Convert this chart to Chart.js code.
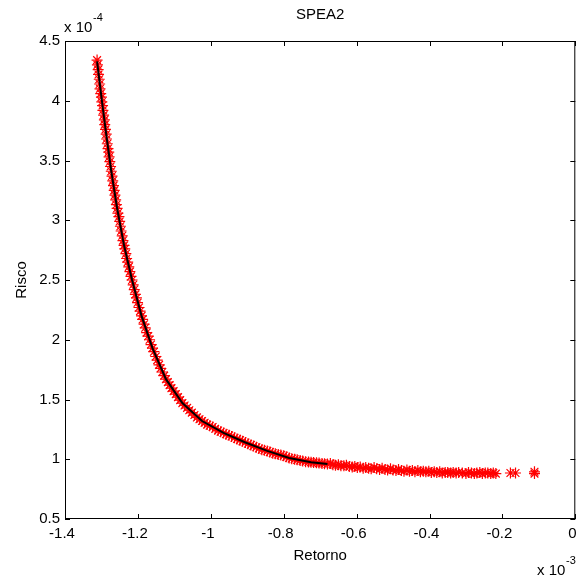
<!DOCTYPE html>
<html>
<head>
<meta charset="utf-8">
<script src="https://cdn.jsdelivr.net/npm/chart.js@4.4.1/dist/chart.umd.min.js"></script>
<style>
  html, body { margin: 0; padding: 0; background: #fff; }
  #wrap { width: 582px; height: 579px; position: relative; }
</style>
</head>
<body>
<div id="wrap"><canvas id="spea2"></canvas></div>
<script>
// Fronteira de Pareto SPEA2 (Retorno x 1e-3, Risco x 1e-4)
const retorno = [
  -1.312, -1.311, -1.309, -1.308, -1.306, -1.305, -1.304, -1.302, -1.300, -1.299,
  -1.297, -1.296, -1.294, -1.292, -1.291, -1.289, -1.287, -1.286, -1.284, -1.282,
  -1.280, -1.279, -1.277, -1.275, -1.273, -1.271, -1.269, -1.267, -1.265, -1.263,
  -1.261, -1.259, -1.257, -1.255, -1.252, -1.250, -1.248, -1.246, -1.243, -1.241,
  -1.238, -1.236, -1.233, -1.231, -1.228, -1.225, -1.222, -1.219, -1.216, -1.213,
  -1.210, -1.207, -1.204, -1.201, -1.197, -1.194, -1.190, -1.187, -1.183, -1.180,
  -1.176, -1.172, -1.168, -1.164, -1.160, -1.156, -1.151, -1.147, -1.142, -1.138,
  -1.133, -1.128, -1.123, -1.118, -1.113, -1.108, -1.102, -1.096, -1.090, -1.084,
  -1.078, -1.072, -1.065, -1.059, -1.052, -1.045, -1.038, -1.031, -1.024, -1.017,
  -1.010, -1.003, -0.995, -0.988, -0.980, -0.973, -0.965, -0.958, -0.950, -0.943,
  -0.935, -0.928, -0.920, -0.913, -0.905, -0.898, -0.890, -0.883, -0.875, -0.868,
  -0.860, -0.853, -0.845, -0.838, -0.830, -0.823, -0.815, -0.808, -0.800, -0.793,
  -0.785, -0.778, -0.770, -0.763, -0.755, -0.748, -0.740, -0.732, -0.725, -0.718,
  -0.710, -0.703, -0.695, -0.688, -0.680, -0.672, -0.665, -0.658, -0.650, -0.643,
  -0.635, -0.628, -0.620, -0.612, -0.605, -0.598, -0.590, -0.582, -0.575, -0.567,
  -0.560, -0.552, -0.545, -0.537, -0.530, -0.522, -0.515, -0.507, -0.500, -0.492,
  -0.485, -0.477, -0.470, -0.462, -0.455, -0.447, -0.440, -0.432, -0.425, -0.417,
  -0.410, -0.402, -0.395, -0.387, -0.380, -0.372, -0.365, -0.357, -0.350, -0.342,
  -0.335, -0.327, -0.320, -0.310, -0.300, -0.293, -0.285, -0.277, -0.270, -0.262,
  -0.255, -0.247, -0.240, -0.232, -0.225, -0.218, -0.178, -0.164, -0.112, -0.112
];
const risco = [
  4.34, 4.30, 4.26, 4.22, 4.18, 4.14, 4.10, 4.06, 4.03, 3.99,
  3.96, 3.92, 3.88, 3.84, 3.80, 3.76, 3.72, 3.68, 3.64, 3.60,
  3.57, 3.53, 3.49, 3.45, 3.41, 3.37, 3.33, 3.29, 3.25, 3.21,
  3.17, 3.13, 3.10, 3.06, 3.03, 2.99, 2.95, 2.91, 2.87, 2.83,
  2.79, 2.76, 2.72, 2.68, 2.65, 2.61, 2.57, 2.53, 2.50, 2.46,
  2.42, 2.38, 2.35, 2.31, 2.27, 2.24, 2.20, 2.17, 2.13, 2.10,
  2.06, 2.03, 2.00, 1.96, 1.93, 1.90, 1.86, 1.83, 1.79, 1.76,
  1.73, 1.70, 1.67, 1.645, 1.62, 1.595, 1.57, 1.545, 1.52, 1.495,
  1.47, 1.45, 1.43, 1.41, 1.39, 1.37, 1.35, 1.335, 1.32, 1.305,
  1.29, 1.28, 1.27, 1.255, 1.24, 1.23, 1.22, 1.21, 1.20, 1.19,
  1.18, 1.17, 1.16, 1.15, 1.14, 1.13, 1.12, 1.11, 1.10, 1.09,
  1.08, 1.075, 1.07, 1.06, 1.05, 1.045, 1.04, 1.035, 1.03, 1.02,
  1.01, 1.005, 1.00, 0.995, 0.99, 0.985, 0.98, 0.978, 0.975, 0.972,
  0.97, 0.968, 0.965, 0.962, 0.96, 0.965, 0.955, 0.95, 0.955, 0.945,
  0.945, 0.95, 0.94, 0.935, 0.94, 0.93, 0.935, 0.925, 0.93, 0.925,
  0.92, 0.93, 0.92, 0.915, 0.925, 0.915, 0.91, 0.92, 0.91, 0.905,
  0.915, 0.905, 0.90, 0.91, 0.90, 0.905, 0.895, 0.905, 0.895, 0.90,
  0.895, 0.90, 0.89, 0.895, 0.89, 0.895, 0.885, 0.89, 0.89, 0.885,
  0.89, 0.885, 0.89, 0.885, 0.88, 0.89, 0.885, 0.88, 0.885, 0.89,
  0.88, 0.885, 0.885, 0.88, 0.885, 0.88, 0.885, 0.885, 0.88, 0.895
];

// curva preta
const linhaRetorno = [
  -1.312, -1.300, -1.287, -1.273, -1.257, -1.238, -1.216, -1.190, -1.160,
  -1.123, -1.078, -1.024, -0.965, -0.905, -0.845, -0.785, -0.725, -0.680
];
const linhaRisco = [
  4.33, 4.03, 3.72, 3.41, 3.10, 2.79, 2.50, 2.20, 1.93,
  1.67, 1.47, 1.32, 1.22, 1.14, 1.07, 1.01, 0.975, 0.96
];

const xTicks = [-1.4, -1.2, -1.0, -0.8, -0.6, -0.4, -0.2, 0];
const xTickLabels = ['-1.4', '-1.2', '-1', '-0.8', '-0.6', '-0.4', '-0.2', '0'];
const yTicks = [0.5, 1, 1.5, 2, 2.5, 3, 3.5, 4, 4.5];
const yTickLabels = ['0.5', '1', '1.5', '2', '2.5', '3', '3.5', '4', '4.5'];

const FONT = "'Liberation Sans', Arial, sans-serif";

// caixa, marcas internas, título e expoentes
const matlabAxes = {
  id: 'matlabAxes',
  afterDraw(chart) {
    const { ctx, chartArea: a, scales } = chart;
    const tl = 5;
    ctx.save();
    ctx.strokeStyle = '#000';
    ctx.lineWidth = 1;
    ctx.strokeRect(a.left + 0.5, a.top + 0.5, a.right - a.left - 1, a.bottom - a.top - 1);
    ctx.beginPath();
    xTicks.forEach(v => {
      const px = Math.round(scales.x.getPixelForValue(v)) + 0.5;
      ctx.moveTo(px, a.bottom); ctx.lineTo(px, a.bottom - tl);
      ctx.moveTo(px, a.top); ctx.lineTo(px, a.top + tl);
    });
    yTicks.forEach(v => {
      const py = Math.round(scales.y.getPixelForValue(v)) + 0.5;
      ctx.moveTo(a.left, py); ctx.lineTo(a.left + tl, py);
      ctx.moveTo(a.right, py); ctx.lineTo(a.right - tl, py);
    });
    ctx.stroke();

    ctx.fillStyle = '#000';
    ctx.textBaseline = 'alphabetic';
    ctx.textAlign = 'center';
    ctx.font = '15px ' + FONT;
    ctx.fillText('SPEA2', (a.left + a.right) / 2, 19);

    ctx.textAlign = 'left';
    ctx.font = '15px ' + FONT;
    ctx.fillText('x 10', 64, 32);
    ctx.font = '11px ' + FONT;
    ctx.fillText('-4', 93, 21);

    ctx.font = '15px ' + FONT;
    ctx.fillText('x 10', 537, 575);
    ctx.font = '11px ' + FONT;
    ctx.fillText('-3', 566, 564);
    ctx.restore();
  }
};

new Chart(document.getElementById('spea2'), {
  type: 'scatter',
  data: {
    datasets: [
      {
        label: 'curva',
        data: linhaRetorno.map((x, i) => ({ x, y: linhaRisco[i] })),
        showLine: true,
        borderColor: '#000',
        borderWidth: 2,
        pointRadius: 0,
        tension: 0,
        order: 0
      },
      {
        label: 'SPEA2',
        data: retorno.map((x, i) => ({ x, y: risco[i] })),
        pointStyle: 'star',
        pointRadius: 5.5,
        borderColor: '#ff0000',
        backgroundColor: '#ff0000',
        pointBorderWidth: 1.2,
        order: 1
      }
    ]
  },
  options: {
    responsive: true,
    maintainAspectRatio: false,
    animation: false,
    events: [],
    layout: { padding: { top: 41, right: 5, left: 0, bottom: 0 } },
    plugins: { legend: { display: false }, tooltip: { enabled: false } },
    scales: {
      x: {
        type: 'linear',
        min: -1.4,
        max: 0,
        afterFit: s => { s.height = 60; s.paddingLeft = 0; s.paddingRight = 0; },
        afterBuildTicks: s => { s.ticks = xTicks.map(v => ({ value: v })); },
        grid: { display: false, drawTicks: false },
        border: { display: false },
        ticks: {
          color: '#000',
          font: { family: FONT, size: 15 },
          padding: 6,
          labelOffset: -3,
          maxRotation: 0,
          callback: (v, i) => xTickLabels[i]
        },
        title: {
          display: true,
          text: 'Retorno',
          color: '#000',
          font: { family: FONT, size: 15 },
          padding: { top: 0, bottom: 14 }
        }
      },
      y: {
        type: 'linear',
        min: 0.5,
        max: 4.5,
        afterFit: s => { s.width = 65; s.paddingTop = 0; s.paddingBottom = 0; },
        afterBuildTicks: s => { s.ticks = yTicks.map(v => ({ value: v })); },
        grid: { display: false, drawTicks: false },
        border: { display: false },
        ticks: {
          color: '#000',
          font: { family: FONT, size: 15 },
          padding: 5,
          callback: (v, i) => yTickLabels[i]
        },
        title: {
          display: true,
          text: 'Risco',
          color: '#000',
          font: { family: FONT, size: 15 },
          padding: { top: 13, bottom: 0 }
        }
      }
    }
  },
  plugins: [matlabAxes]
});
</script>
</body>
</html>
